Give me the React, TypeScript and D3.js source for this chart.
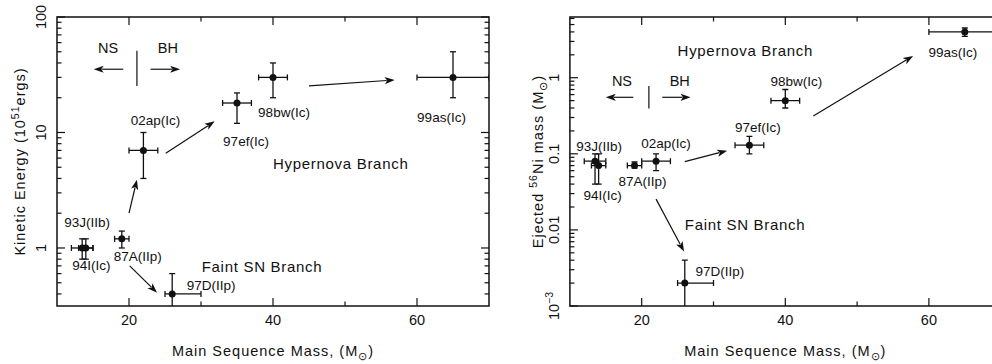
import React from 'react';
import * as d3 from 'd3';

// Supernova sample: progenitor main-sequence mass, explosion energy and ejected 56Ni mass
const supernovae = ['93J(IIb)', '94I(Ic)', '87A(IIp)', '02ap(Ic)', '97ef(Ic)', '98bw(Ic)', '99as(Ic)', '97D(IIp)'];
const mass = [13.5, 14, 19, 22, 35, 40, 65, 26];
const massLo = [12, 13, 18, 20, 33, 38, 60, 25];
const massHi = [15, 15, 20, 24, 37, 42, 70, 30];
const energy = [1, 1, 1.2, 7, 18, 30, 30, 0.4];
const energyLo = [0.8, 0.8, 1.0, 4, 12, 20, 20, 0.2];
const energyHi = [1.2, 1.2, 1.4, 10, 22, 40, 50, 0.6];
const nickel = [0.08, 0.07, 0.07, 0.08, 0.13, 0.5, 4, 0.002];
const nickelLo = [0.04, 0.04, 0.065, 0.06, 0.1, 0.4, 3.5, 0.0008];
const nickelHi = [0.1, 0.1, 0.078, 0.1, 0.17, 0.7, 4.5, 0.004];

// Axis ticks
const massTicks = [20, 30, 40, 50, 60];
const massTickLabels = ['20', '', '40', '', '60'];

// Evolution arrows between supernovae, in data coordinates [mass, value]
const energyArrows: [number, number][][] = [
  [[20.0, 2.0], [21.1, 3.9]],
  [[25.1, 6.6], [31.9, 12.5]],
  [[45.0, 25.3], [56.9, 28.5]],
  [[20.1, 0.7], [23.9, 0.41]],
];
const nickelArrows: [number, number][][] = [
  [[22.0, 0.0254], [25.9, 0.0052]],
  [[26.0, 0.079], [31.9, 0.11]],
  [[43.9, 0.315], [57.8, 1.93]],
];

const W = 992;
const H = 364;
const FONT = '"Liberation Sans", Arial, sans-serif';
const INK = '#111';

type Offset = [number, number];

// Label placement (pixel offsets from each point)
const energyLabelOffsets: Offset[] = [[5, -21], [5.5, 22], [16, 22], [12, -25], [9, 43], [11, 40], [-11.5, 45], [39, -4]];
const nickelLabelOffsets: Offset[] = [[4, -10], [4, 34], [8, 20], [10, -13], [8.5, -13], [11, -14.5], [-12, 25], [35, -7]];

type Annot = { hyper: [number, number]; faint: [number, number]; divider: { m: number; top: number; bottom: number; arrowY: number; textY: number; ns: number; bh: number; nsArrow: [number, number]; bhArrow: [number, number] } };

const energyAnnot: Annot = {
  hyper: [40, 4.8],
  faint: [30.1, 0.62],
  divider: { m: 21.1, top: 51, bottom: 25.3, arrowY: 35.3, textY: 48.8, ns: 17.1, bh: 25.4, nsArrow: [19.2, 15.1], bhArrow: [23.0, 27.1] },
};
const nickelAnnot: Annot = {
  hyper: [25.0, 1.93],
  faint: [26.0, 0.01],
  divider: { m: 21.0, top: 0.778, bottom: 0.394, arrowY: 0.553, textY: 0.778, ns: 17.25, bh: 25.3, nsArrow: [18.83, 15.0], bhArrow: [22.87, 26.8] },
};

function Arrow({ x1, y1, x2, y2 }: { x1: number; y1: number; x2: number; y2: number }) {
  const a = Math.atan2(y2 - y1, x2 - x1);
  const len = 10;
  const hw = 3.6;
  const bx = x2 - len * Math.cos(a);
  const by = y2 - len * Math.sin(a);
  const px = -Math.sin(a);
  const py = Math.cos(a);
  const pts = [
    [x2, y2],
    [bx + hw * px, by + hw * py],
    [bx + (len * 0.25) * Math.cos(a), by + (len * 0.25) * Math.sin(a)],
    [bx - hw * px, by - hw * py],
  ];
  return (
    <g>
      <line x1={x1} y1={y1} x2={bx + 2 * Math.cos(a)} y2={by + 2 * Math.sin(a)} stroke={INK} strokeWidth={1.2} />
      <polygon points={pts.map((p) => p.join(',')).join(' ')} fill={INK} />
    </g>
  );
}

function logTicks(lo: number, hi: number) {
  const out: { v: number; major: boolean }[] = [];
  for (let d = Math.floor(Math.log10(lo)); d <= Math.ceil(Math.log10(hi)); d++) {
    for (let k = 1; k <= 9; k++) {
      const v = k * Math.pow(10, d);
      if (v >= lo * 0.999 && v <= hi * 1.001) out.push({ v, major: k === 1 });
    }
  }
  return out;
}

type PanelProps = {
  id: string;
  x0: number;
  x1: number;
  y0: number;
  y1: number;
  yDomain: [number, number];
  values: number[];
  lo: number[];
  hi: number[];
  offsets: Offset[];
  arrows: [number, number][][];
  annot: Annot;
  yLabel: (v: number) => React.ReactNode;
  yTitle: React.ReactNode;
  yTitleX: number;
  yTickX: number;
  rightAxis: boolean;
};

function Panel(p: PanelProps) {
  const x = d3.scaleLinear().domain([10, 70]).range([p.x0, p.x1]);
  const y = d3.scaleLog().domain(p.yDomain).range([p.y0, p.y1]);
  const yt = logTicks(p.yDomain[0], p.yDomain[1]);
  const clip = `clip-${p.id}`;
  const cy = (p.y0 + p.y1) / 2;
  const cx = (p.x0 + p.x1) / 2;
  const dv = p.annot.divider;
  return (
    <g fontFamily={FONT} fill={INK}>
      <defs>
        <clipPath id={clip}>
          <rect x={p.x0} y={p.y1} width={p.x1 - p.x0} height={p.y0 - p.y1} />
        </clipPath>
      </defs>
      {/* frame */}
      <rect x={p.x0} y={p.y1} width={p.x1 - p.x0} height={p.y0 - p.y1} fill="none" stroke={INK} strokeWidth={1.5} />
      {/* mass ticks, bottom and top */}
      {massTicks.map((t, i) => {
        const len = massTickLabels[i] ? 8 : 4.5;
        return (
          <g key={`mt${t}`}>
            <line x1={x(t)} x2={x(t)} y1={p.y0} y2={p.y0 - len} stroke={INK} strokeWidth={1.2} />
            <line x1={x(t)} x2={x(t)} y1={p.y1} y2={p.y1 + len} stroke={INK} strokeWidth={1.2} />
            {massTickLabels[i] && (
              <text x={x(t)} y={325} textAnchor="middle" fontSize={14.5}>{massTickLabels[i]}</text>
            )}
          </g>
        );
      })}
      {/* log ticks, left and right */}
      {yt.map((t) => {
        const len = t.major ? 8 : 4.5;
        return (
          <g key={`yt${t.v}`}>
            <line x1={p.x0} x2={p.x0 + len} y1={y(t.v)} y2={y(t.v)} stroke={INK} strokeWidth={1.2} />
            {p.rightAxis && <line x1={p.x1} x2={p.x1 - len} y1={y(t.v)} y2={y(t.v)} stroke={INK} strokeWidth={1.2} />}
            {t.major && (
              <text transform={`translate(${p.yTickX},${y(t.v)}) rotate(-90)`} textAnchor="middle" fontSize={14.5}>
                {p.yLabel(t.v)}
              </text>
            )}
          </g>
        );
      })}
      {/* axis titles */}
      <text x={cx} y={356} textAnchor="middle" fontSize={14.5} letterSpacing={1}>
        Main Sequence Mass, (M<tspan dy={4} fontSize={11}>⊙</tspan><tspan dy={-4}>)</tspan>
      </text>
      <text transform={`translate(${p.yTitleX},${cy}) rotate(-90)`} textAnchor="middle" fontSize={14.5} letterSpacing={1}>
        {p.yTitle}
      </text>
      {/* error bars and points */}
      <g clipPath={`url(#${clip})`}>
        {supernovae.map((s, i) => {
          const px = x(mass[i]);
          const py = y(p.values[i]);
          const c = 3;
          return (
            <g key={s} stroke={INK} strokeWidth={1.3}>
              <line x1={x(massLo[i])} x2={x(massHi[i])} y1={py} y2={py} />
              <line x1={x(massLo[i])} x2={x(massLo[i])} y1={py - c} y2={py + c} />
              <line x1={x(massHi[i])} x2={x(massHi[i])} y1={py - c} y2={py + c} />
              <line x1={px} x2={px} y1={y(p.lo[i])} y2={y(p.hi[i])} />
              <line x1={px - c} x2={px + c} y1={y(p.lo[i])} y2={y(p.lo[i])} />
              <line x1={px - c} x2={px + c} y1={y(p.hi[i])} y2={y(p.hi[i])} />
              <circle cx={px} cy={py} r={3.5} fill={INK} stroke="none" />
            </g>
          );
        })}
      </g>
      {/* point labels */}
      {supernovae.map((s, i) => (
        <text key={`l${s}`} x={x(mass[i]) + p.offsets[i][0]} y={y(p.values[i]) + p.offsets[i][1]} textAnchor="middle" fontSize={13.5}>
          {s}
        </text>
      ))}
      {/* evolution arrows */}
      {p.arrows.map((a, i) => (
        <Arrow key={`a${i}`} x1={x(a[0][0])} y1={y(a[0][1])} x2={x(a[1][0])} y2={y(a[1][1])} />
      ))}
      {/* branch names */}
      <text x={x(p.annot.hyper[0])} y={y(p.annot.hyper[1])} fontSize={15} letterSpacing={0.7}>Hypernova Branch</text>
      <text x={x(p.annot.faint[0])} y={y(p.annot.faint[1])} fontSize={15} letterSpacing={0.7}>Faint SN Branch</text>
      {/* NS / BH divide */}
      <line x1={x(dv.m)} x2={x(dv.m)} y1={y(dv.top)} y2={y(dv.bottom)} stroke={INK} strokeWidth={1.2} />
      <Arrow x1={x(dv.nsArrow[0])} y1={y(dv.arrowY)} x2={x(dv.nsArrow[1])} y2={y(dv.arrowY)} />
      <Arrow x1={x(dv.bhArrow[0])} y1={y(dv.arrowY)} x2={x(dv.bhArrow[1])} y2={y(dv.arrowY)} />
      <text x={x(dv.ns)} y={y(dv.textY)} textAnchor="middle" fontSize={14.5}>NS</text>
      <text x={x(dv.bh)} y={y(dv.textY)} textAnchor="middle" fontSize={14.5}>BH</text>
    </g>
  );
}

function energyLabel(v: number) {
  return d3.format('~g')(v);
}

function nickelLabel(v: number) {
  if (v < 0.005) {
    return (
      <>
        10<tspan dy={-6} fontSize={10.5}>−3</tspan>
      </>
    );
  }
  return d3.format('~g')(v);
}

export default function App() {
  return (
    <svg width={W} height={H} viewBox={`0 0 ${W} ${H}`} style={{ position: 'absolute', left: 0, top: 0, background: '#fff' }}>
      <rect x={0} y={0} width={W} height={H} fill="#fff" />
      <Panel
        id="energy"
        x0={57}
        x1={489}
        y0={306}
        y1={17}
        yDomain={[0.3145, 100]}
        values={energy}
        lo={energyLo}
        hi={energyHi}
        offsets={energyLabelOffsets}
        arrows={energyArrows}
        annot={energyAnnot}
        yLabel={energyLabel}
        yTitle={
          <>
            Kinetic Energy (10<tspan dy={-6} fontSize={10.5}>51</tspan><tspan dy={6}>ergs)</tspan>
          </>
        }
        yTitleX={25}
        yTickX={46}
        rightAxis={true}
      />
      <Panel
        id="nickel"
        x0={569.9}
        x1={1000.7}
        y0={306}
        y1={17}
        yDomain={[0.001, 6.28]}
        values={nickel}
        lo={nickelLo}
        hi={nickelHi}
        offsets={nickelLabelOffsets}
        arrows={nickelArrows}
        annot={nickelAnnot}
        yLabel={nickelLabel}
        yTitle={
          <>
            Ejected <tspan dy={-6} fontSize={10.5}>56</tspan><tspan dy={6}>Ni mass (M</tspan><tspan dy={4} fontSize={11}>⊙</tspan><tspan dy={-4}>)</tspan>
          </>
        }
        yTitleX={543}
        yTickX={559}
        rightAxis={true}
      />
    </svg>
  );
}
